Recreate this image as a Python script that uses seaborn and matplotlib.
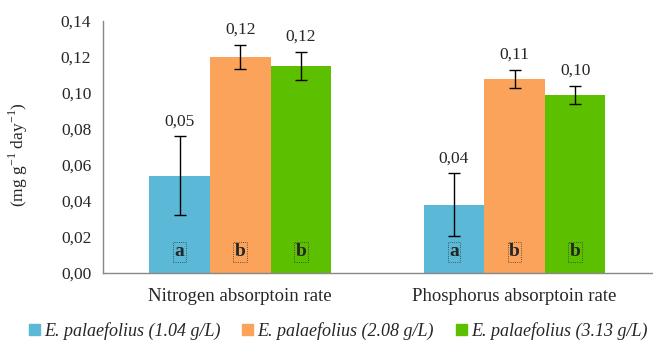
import pandas as pd
import seaborn as sns
import matplotlib.pyplot as plt
from matplotlib.ticker import FuncFormatter, FixedLocator

# Values
categories = ["Nitrogen absorptoin rate", "Phosphorus absorptoin rate"]
series = ["E. palaefolius (1.04 g/L)", "E. palaefolius (2.08 g/L)", "E. palaefolius (3.13 g/L)"]
means = {
    series[0]: [0.054, 0.038],
    series[1]: [0.120, 0.108],
    series[2]: [0.115, 0.099],
}
errors = {
    series[0]: [0.022, 0.0175],
    series[1]: [0.0068, 0.005],
    series[2]: [0.008, 0.005],
}
letters = {
    series[0]: ["a", "a"],
    series[1]: ["b", "b"],
    series[2]: ["b", "b"],
}
colors = ["#5BB8D6", "#FBA35A", "#5CBF00"]
y_ticks = [0.00, 0.02, 0.04, 0.06, 0.08, 0.10, 0.12, 0.14]

# Long-form table for seaborn
rows = []
for s in series:
    for i, c in enumerate(categories):
        rows.append({"category": c, "series": s, "value": means[s][i]})
df = pd.DataFrame(rows)

sns.set_style("white")
plt.rcParams["font.family"] = ["Liberation Serif", "DejaVu Serif"]
plt.rcParams["mathtext.fontset"] = "custom"
plt.rcParams["mathtext.rm"] = "Liberation Serif"

fig = plt.figure(figsize=(6.53, 3.43), dpi=100)
ax = fig.add_axes([0.158, 0.204, 0.840, 0.735])

sns.barplot(data=df, x="category", y="value", hue="series", order=categories,
            hue_order=series, palette=colors, width=0.663, errorbar=None,
            saturation=1, linewidth=0, ax=ax, legend=False)

# error bars, value labels and significance letters
for s, cont in zip(series, ax.containers):
    for i, bar in enumerate(cont.patches):
        x = bar.get_x() + bar.get_width() / 2
        v = means[s][i]
        e = errors[s][i]
        ax.errorbar(x, v, yerr=e, fmt="none", ecolor="black", elinewidth=1,
                    capsize=4, capthick=1)
        ax.annotate(f"{v:.2f}".replace(".", ","), (x, v + e), xytext=(0, 5),
                    textcoords="offset points", ha="center", va="bottom",
                    fontsize=12.5)
        ax.text(x, 0.0118, letters[s][i], ha="center", va="center", fontsize=14,
                fontweight="bold",
                bbox=dict(boxstyle="square,pad=0.08", fill=False, linestyle=":",
                          linewidth=0.6, edgecolor="#333333"))

ax.set_xlim(-0.5, 1.5)
ax.set_ylim(0, 0.14)
ax.yaxis.set_major_locator(FixedLocator(y_ticks))
ax.yaxis.set_major_formatter(FuncFormatter(lambda v, p: f"{v:.2f}".replace(".", ",")))
ax.xaxis.set_minor_locator(FixedLocator([-0.5, 0.5, 1.5]))
ax.tick_params(axis="x", which="major", length=0, labelsize=13.5, pad=11)
ax.tick_params(axis="x", which="minor", length=5, color="#888888", direction="out")
ax.tick_params(axis="y", length=5, color="#888888", direction="out", labelsize=12.5)
ax.set_xlabel("")
ax.set_ylabel(r"(mg g$^{\mathregular{-1}}$ day$^{\mathregular{-1}}$)", fontsize=12.5)
ax.yaxis.set_label_coords(-0.133, 0.47)

sns.despine(ax=ax)
for sp in ["left", "bottom"]:
    ax.spines[sp].set_color("#888888")
    ax.spines[sp].set_linewidth(1)

handles = [plt.Rectangle((0, 0), 1, 1, color=c) for c in colors]
fig.legend(handles, series, loc="center", bbox_to_anchor=(0.518, 0.035), ncol=3,
           frameon=False, handlelength=0.6, handleheight=0.6, handletextpad=0.25,
           columnspacing=1.2, prop={"style": "italic", "size": 13})

fig.savefig("out.png", dpi=100)
